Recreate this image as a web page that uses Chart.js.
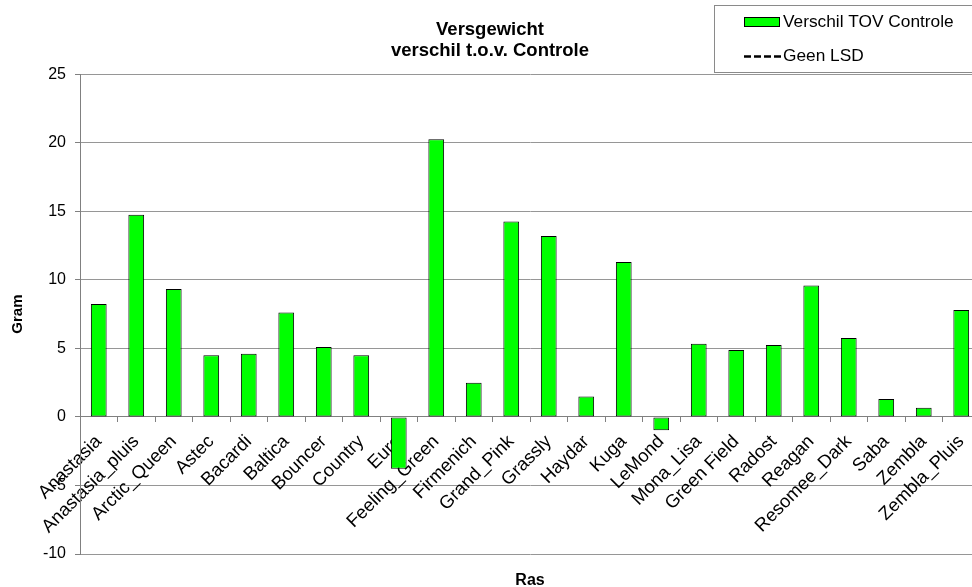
<!DOCTYPE html>
<html>
<head>
<meta charset="utf-8">
<script src="https://cdn.jsdelivr.net/npm/chart.js@4/dist/chart.umd.min.js"></script>
<style>
  html, body { margin: 0; padding: 0; background: #ffffff; overflow: hidden; }
  #wrap { width: 972px; height: 587px; overflow: hidden; position: relative; }
  canvas { display: block; }
</style>
</head>
<body>
<div id="wrap"><canvas id="c" width="992" height="587"></canvas></div>
<script>
// ---- data ----
const categories = ["Anastasia", "Anastasia_pluis", "Arctic_Queen", "Astec", "Bacardi", "Baltica",
  "Bouncer", "Country", "Euro", "Feeling_Green", "Firmenich", "Grand_Pink", "Grassly", "Haydar",
  "Kuga", "LeMond", "Mona_Lisa", "Green Field", "Radost", "Reagan", "Resomee_Dark", "Saba",
  "Zembla", "Zembla_Pluis"];
const verschilValues = [8.24, 14.74, 9.33, 4.49, 4.61, 7.62, 5.10, 4.49, -3.79, 20.26, 2.50, 14.26,
  13.19, 1.48, 11.30, -0.98, 5.34, 4.88, 5.25, 9.59, 5.76, 1.31, 0.66, 7.80];
const lsdValues = [];
const seriesNames = ["Verschil TOV Controle", "Geen LSD"];
const titleLines = ["Versgewicht", "verschil t.o.v. Controle"];
const xTitle = "Ras";
const yTitle = "Gram";
const yMin = -10, yMax = 25, yStep = 5;

const FONT = "'Liberation Sans', Arial, Helvetica, sans-serif";
Chart.defaults.font.family = FONT;
Chart.defaults.color = '#000000';

// custom boxed legend (vertical, like the original)
const boxLegend = {
  id: 'boxLegend',
  afterDraw(chart) {
    const ctx = chart.ctx;
    const ds = chart.data.datasets;
    ctx.save();
    ctx.fillStyle = '#ffffff';
    ctx.fillRect(714.5, 5.5, 300, 67);
    ctx.strokeStyle = '#8a8a8a';
    ctx.lineWidth = 1;
    ctx.strokeRect(714.5, 5.5, 300, 67);
    // item 1: bar swatch
    ctx.fillStyle = ds[0].backgroundColor;
    ctx.fillRect(744.5, 17.5, 35, 9);
    ctx.strokeStyle = '#000000';
    ctx.strokeRect(744.5, 17.5, 35, 9);
    // item 2: dashed line
    ctx.beginPath();
    ctx.setLineDash([7, 3]);
    ctx.lineWidth = 2.5;
    ctx.moveTo(744, 56.5);
    ctx.lineTo(781, 56.5);
    ctx.stroke();
    ctx.setLineDash([]);
    ctx.fillStyle = '#000000';
    ctx.font = '17.3px ' + FONT;
    ctx.textBaseline = 'middle';
    ctx.textAlign = 'left';
    ctx.fillText(ds[0].label, 783, 22.5);
    ctx.fillText(ds[1].label, 783, 56.5);
    ctx.restore();
  }
};

new Chart(document.getElementById('c'), {
  type: 'bar',
  data: {
    labels: categories,
    datasets: [
      {
        type: 'bar',
        label: seriesNames[0],
        data: verschilValues,
        backgroundColor: '#00ff00',
        borderColor: '#000000',
        borderWidth: 1,
        borderSkipped: false,
        barPercentage: 0.42,
        categoryPercentage: 1.0,
        order: 1
      },
      {
        type: 'line',
        label: seriesNames[1],
        data: lsdValues,
        borderColor: '#000000',
        borderWidth: 2,
        borderDash: [7, 3],
        pointRadius: 0,
        fill: false,
        order: 0
      }
    ]
  },
  options: {
    responsive: false,
    animation: false,
    devicePixelRatio: 1,
    layout: { padding: { left: 0, right: 12, top: 0, bottom: 33 } },
    plugins: {
      legend: { display: false },
      tooltip: { enabled: false },
      title: {
        display: true,
        text: titleLines,
        color: '#000000',
        font: { size: 18.5, weight: 'bold', family: FONT, lineHeight: 1.14 },
        padding: { top: 19, bottom: 13 }
      }
    },
    scales: {
      x: {
        position: { y: 0 },
        z: 1,
        offset: true,
        grid: {
          display: true,
          drawOnChartArea: false,
          drawTicks: true,
          tickLength: 5,
          tickColor: '#808080',
          offset: true
        },
        border: { display: true, color: '#808080', width: 1 },
        ticks: {
          autoSkip: false,
          minRotation: 45,
          maxRotation: 45,
          padding: 9,
          labelOffset: 0,
          color: '#000000',
          font: { size: 18.4, family: FONT }
        },
        title: {
          display: true,
          text: xTitle,
          color: '#000000',
          font: { size: 16, weight: 'bold', family: FONT },
          padding: { top: 24, bottom: 0 }
        }
      },
      y: {
        min: yMin,
        max: yMax,
        afterFit(scale) { scale.width = 80; },
        grid: {
          color: '#969696',
          lineWidth: 1,
          drawTicks: true,
          tickLength: 5,
          tickColor: '#808080'
        },
        border: { display: true, color: '#808080', width: 1 },
        ticks: {
          stepSize: yStep,
          padding: 9,
          color: '#000000',
          font: { size: 16, family: FONT }
        },
        title: {
          display: true,
          text: yTitle,
          color: '#000000',
          font: { size: 15, weight: 'bold', family: FONT },
          padding: { top: 9, bottom: 0 }
        }
      }
    }
  },
  plugins: [boxLegend]
});
</script>
</body>
</html>
